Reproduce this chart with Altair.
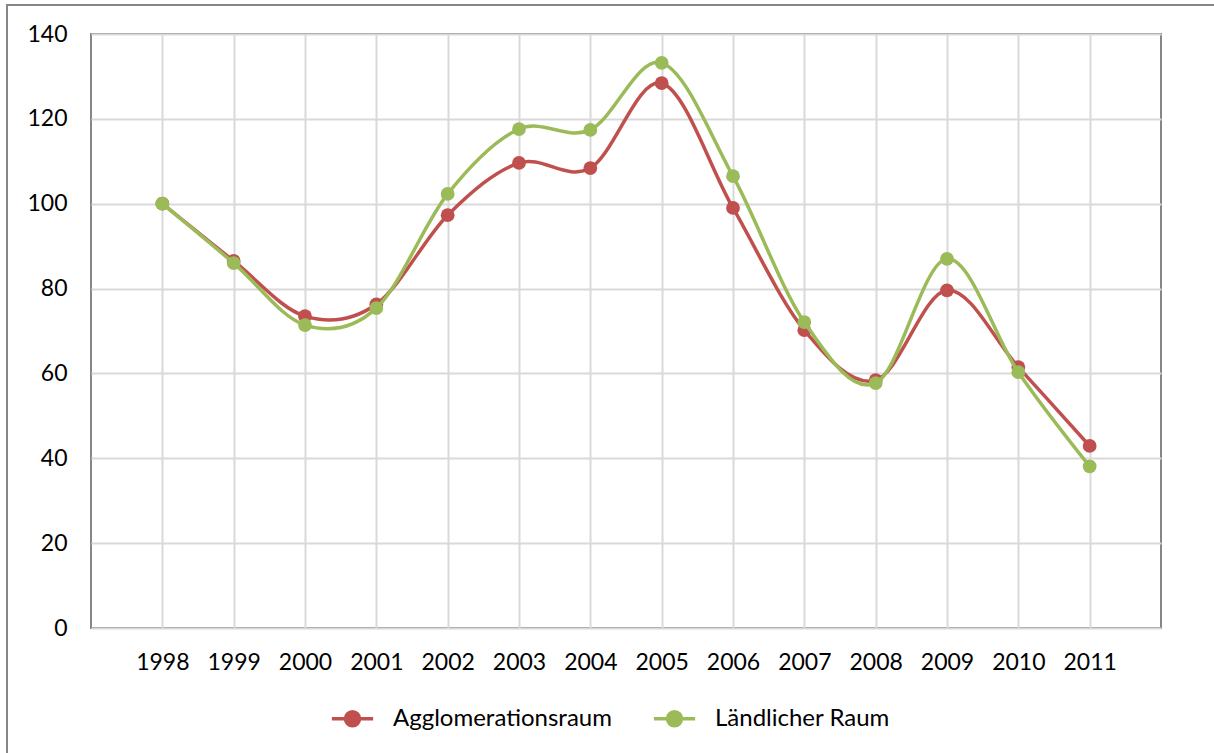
import altair as alt
import pandas as pd

years = ["1998", "1999", "2000", "2001", "2002", "2003", "2004",
         "2005", "2006", "2007", "2008", "2009", "2010", "2011"]
agglo = [100, 86.5, 73.5, 76.3, 97.3, 109.6, 108.4, 128.4, 99.0, 70.2, 58.4, 79.6, 61.5, 42.9]
land = [100, 86.0, 71.4, 75.4, 102.3, 117.6, 117.4, 133.2, 106.5, 72.1, 57.7, 87.0, 60.3, 38.1]
series = ["Agglomerationsraum", "Ländlicher Raum"]
colors = ["#C0504D", "#9BBB59"]

rows = []
for name, vals in zip(series, [agglo, land]):
    for y, v in zip(years, vals):
        rows.append({"Jahr": y, "Wert": v, "Serie": name})
df = pd.DataFrame(rows)

FONT = "Lato"
x = alt.X("Jahr:O", scale=alt.Scale(type="point", padding=1), sort=years,
          axis=alt.Axis(title=None, labelFont=FONT, labelFontSize=23, labelColor="#000000",
                        labelAngle=0, labelPadding=23, ticks=False, domain=False,
                        grid=True, gridColor="#D9D9D9", gridWidth=2))
y = alt.Y("Wert:Q", scale=alt.Scale(domain=[0, 140], nice=False),
          axis=alt.Axis(title=None, values=[0, 20, 40, 60, 80, 100, 120, 140],
                        labelFont=FONT, labelFontSize=23, labelColor="#000000",
                        labelPadding=24, ticks=False, domain=False,
                        grid=True, gridColor="#D9D9D9", gridWidth=2))

sym = "M-1,0L1,0M-0.34,0A0.34,0.34,0,1,1,0.34,0A0.34,0.34,0,1,1,-0.34,0Z"
color_legend = alt.Color("Serie:N", scale=alt.Scale(domain=series, range=colors),
                         legend=alt.Legend(title=None, orient="none", direction="horizontal",
                                           legendX=239, legendY=662,
                                           labelFont=FONT, labelFontSize=24, labelColor="#000000",
                                           symbolType=sym, symbolSize=1700, symbolStrokeWidth=3.5,
                                           symbolOpacity=1, labelOffset=18, columnPadding=34,
                                           labelLimit=400))
color_nolegend = alt.Color("Serie:N", scale=alt.Scale(domain=series, range=colors), legend=None)

base = alt.Chart(df)

frame = alt.Chart(df).mark_rect(fill=None, stroke="#868686", strokeWidth=2).encode(
    x=alt.value(-84), x2=alt.value(1200), y=alt.value(-29), y2=alt.value(800))

layers = [frame]
for i, name in enumerate(series):
    sub = base.transform_filter(alt.datum.Serie == name)
    line = sub.mark_line(interpolate="cardinal", strokeWidth=3.5).encode(
        x=x, y=y, color=color_legend if i == 0 else color_nolegend)
    pts = sub.mark_point(filled=True, size=190, opacity=1, shape="circle").encode(
        x=x, y=y, color=color_nolegend)
    layers += [line, pts]

chart = alt.layer(*layers).properties(
    width=1070, height=594,
    autosize=alt.AutoSizeParams(type="none"),
    padding={"left": 91, "top": 34, "right": 53, "bottom": 125},
    background="#FFFFFF",
).configure_view(stroke="#868686", strokeWidth=2)

chart.save("out.html", embed_options={"renderer": "svg", "actions": False})
